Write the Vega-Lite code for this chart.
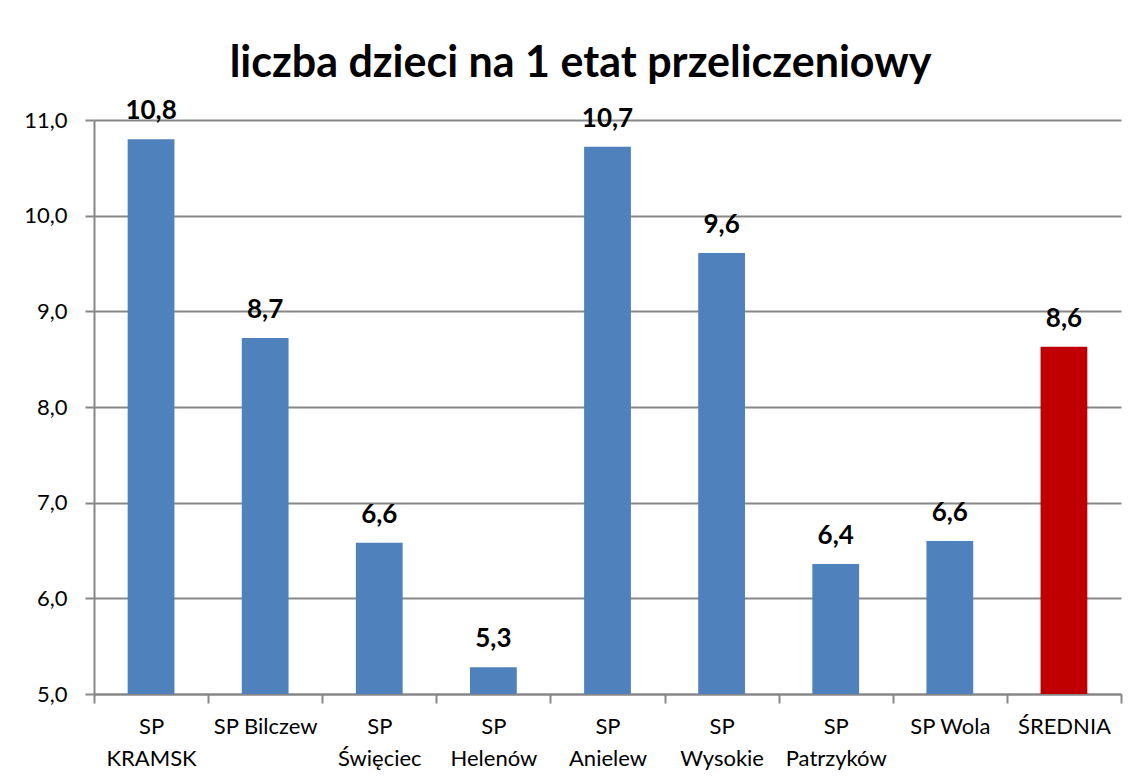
{
  "$schema": "https://vega.github.io/schema/vega-lite/v6.json",
  "width": 1027,
  "height": 574,
  "autosize": {"type": "none"},
  "padding": {"left": 94, "top": 120, "right": 18, "bottom": 89},
  "background": "white",
  "title": {
    "text": "liczba dzieci na 1 etat przeliczeniowy",
    "font": "Lato",
    "fontSize": 43,
    "fontWeight": "bold",
    "color": "black",
    "anchor": "middle",
    "frame": "group",
    "dx": -27,
    "offset": 12
  },
  "data": {
    "values": [
      {"szkola": "SP KRAMSK", "wartosc": 10.80, "grupa": "szkoła"},
      {"szkola": "SP Bilczew", "wartosc": 8.72, "grupa": "szkoła"},
      {"szkola": "SP Święciec", "wartosc": 6.58, "grupa": "szkoła"},
      {"szkola": "SP Helenów", "wartosc": 5.28, "grupa": "szkoła"},
      {"szkola": "SP Anielew", "wartosc": 10.72, "grupa": "szkoła"},
      {"szkola": "SP Wysokie", "wartosc": 9.61, "grupa": "szkoła"},
      {"szkola": "SP Patrzyków", "wartosc": 6.36, "grupa": "szkoła"},
      {"szkola": "SP Wola", "wartosc": 6.60, "grupa": "szkoła"},
      {"szkola": "ŚREDNIA", "wartosc": 8.63, "grupa": "średnia"}
    ]
  },
  "encoding": {
    "x": {
      "field": "szkola",
      "type": "nominal",
      "sort": null,
      "scale": {"paddingInner": 0, "paddingOuter": 0},
      "axis": {
        "title": null,
        "labelAngle": 0,
        "labelFont": "Lato",
        "labelFontSize": 22,
        "labelColor": "black",
        "labelLineHeight": 32,
        "labelPadding": 13,
        "labelExpr": "datum.value == null ? '' : ((datum.value == 'SP Bilczew' || datum.value == 'SP Wola' || datum.value == 'ŚREDNIA') ? datum.value : split(datum.value, ' '))",
        "tickBand": "extent",
        "tickSize": 9,
        "tickWidth": 2,
        "tickColor": "#878787",
        "domainColor": "#878787",
        "domainWidth": 2,
        "grid": false
      }
    },
    "y": {
      "field": "wartosc",
      "type": "quantitative",
      "scale": {"domain": [5, 11], "zero": false, "nice": false},
      "axis": {
        "title": null,
        "values": [5, 6, 7, 8, 9, 10, 11],
        "format": ".1f",
        "labelFont": "Lato",
        "labelFontSize": 22,
        "labelColor": "black",
        "labelPadding": 18,
        "tickSize": 9,
        "tickWidth": 2,
        "tickColor": "#878787",
        "domainColor": "#878787",
        "domainWidth": 2,
        "grid": true,
        "gridColor": "#878787",
        "gridWidth": 2
      }
    }
  },
  "layer": [
    {
      "mark": {"type": "bar", "width": {"band": 0.41}},
      "encoding": {
        "y2": {"datum": 5},
        "color": {
          "field": "grupa",
          "type": "nominal",
          "scale": {"domain": ["szkoła", "średnia"], "range": ["#4F81BD", "#C00000"]},
          "legend": null
        }
      }
    },
    {
      "mark": {
        "type": "text",
        "font": "Lato",
        "fontSize": 26,
        "fontWeight": "bold",
        "color": "black",
        "baseline": "alphabetic",
        "dy": -20
      },
      "encoding": {
        "text": {"field": "wartosc", "type": "quantitative", "format": ".1f"}
      }
    }
  ],
  "config": {
    "locale": {
      "number": {"decimal": ",", "thousands": " ", "grouping": [3], "currency": ["", " zł"]}
    },
    "view": {"stroke": null}
  }
}
